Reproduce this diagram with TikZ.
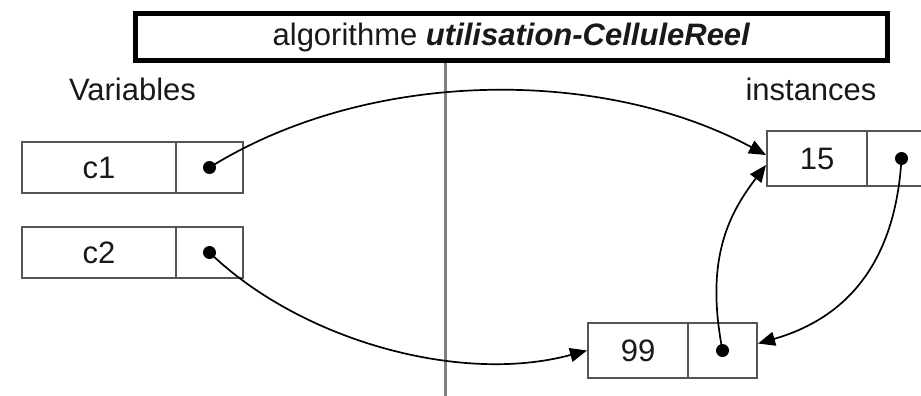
\documentclass[tikz,border=0pt]{standalone}
\usepackage{fontspec}
\setmainfont{Liberation Sans}
\usetikzlibrary{arrows.meta,calc}
\definecolor{boxgray}{RGB}{85,85,85}
\definecolor{linegray}{RGB}{128,128,128}
\definecolor{txt}{RGB}{25,25,25}
\begin{document}
\begin{tikzpicture}[x=1pt,y=-1pt,
  cell/.style={draw=boxgray,line width=2pt,inner sep=0pt,text=txt,font=\fontsize{31}{36}\selectfont},
  dot/.style={circle,fill=black,minimum size=13pt,inner sep=0pt},
  ptr/.style={-{Triangle[length=17pt,width=14pt]},line width=1.7pt,black},
  lbl/.style={font=\fontsize{31}{36}\selectfont,anchor=base,text=txt}]
\fill[white] (0,0) rectangle (921,396);
\useasboundingbox (0,0) rectangle (921,396);
% title
\node[draw=black,line width=5pt,minimum width=752pt,minimum height=47pt,inner sep=0pt,text=txt,
      font=\fontsize{31}{36}\selectfont] (title) at (511.5,37)
      {algorithme \textbf{\textit{utilisation-CelluleReel}}};
% separator
\coordinate (vb) at (445,396);
\draw[linegray,line width=3pt] (title.south -| vb) -- (vb);
% labels
\node[lbl] (varlbl) at (132.5,100) {Variables};
\node[lbl] (instlbl) at (811,100) {instances};
% variables
\node[cell,minimum width=154pt,minimum height=51pt] (c1v) at (99,167.5) {c1};
\node[cell,minimum width=67pt,minimum height=51pt] (c1p) at (209.5,167.5) {};
\node[cell,minimum width=154pt,minimum height=51pt] (c2v) at (99,252.5) {c2};
\node[cell,minimum width=67pt,minimum height=51pt] (c2p) at (209.5,252.5) {};
% instances
\node[cell,minimum width=100pt,minimum height=55pt] (v15) at (817,158.5) {15};
\node[cell,minimum width=69pt,minimum height=55pt] (p15) at (901.5,158.5) {};
\node[cell,minimum width=100pt,minimum height=55pt] (v99) at (638,350.5) {99};
\node[cell,minimum width=69pt,minimum height=55pt] (p99) at (722.5,350.5) {};
% dots
\node[dot] (d1) at (c1p.center) {};
\node[dot] (d2) at (c2p.center) {};
\node[dot] (d15) at (p15.center) {};
\node[dot] (d99) at (p99.center) {};
% pointers
\draw[ptr] (d1.center) .. controls (369,68) and (602,67) .. ($(v15.west)+(0,-3.5)$);
\draw[ptr] (d2.center) .. controls (300,340) and (460,385) .. (v99.west);
\draw[ptr] (d15.center) .. controls (895,270) and (840,320) .. ($(p99.east)+(0,-7)$);
\draw[ptr] (d99.center) .. controls (705,260) and (728,215) .. ($(v15.west)+(0,6.5)$);
\end{tikzpicture}
\end{document}
